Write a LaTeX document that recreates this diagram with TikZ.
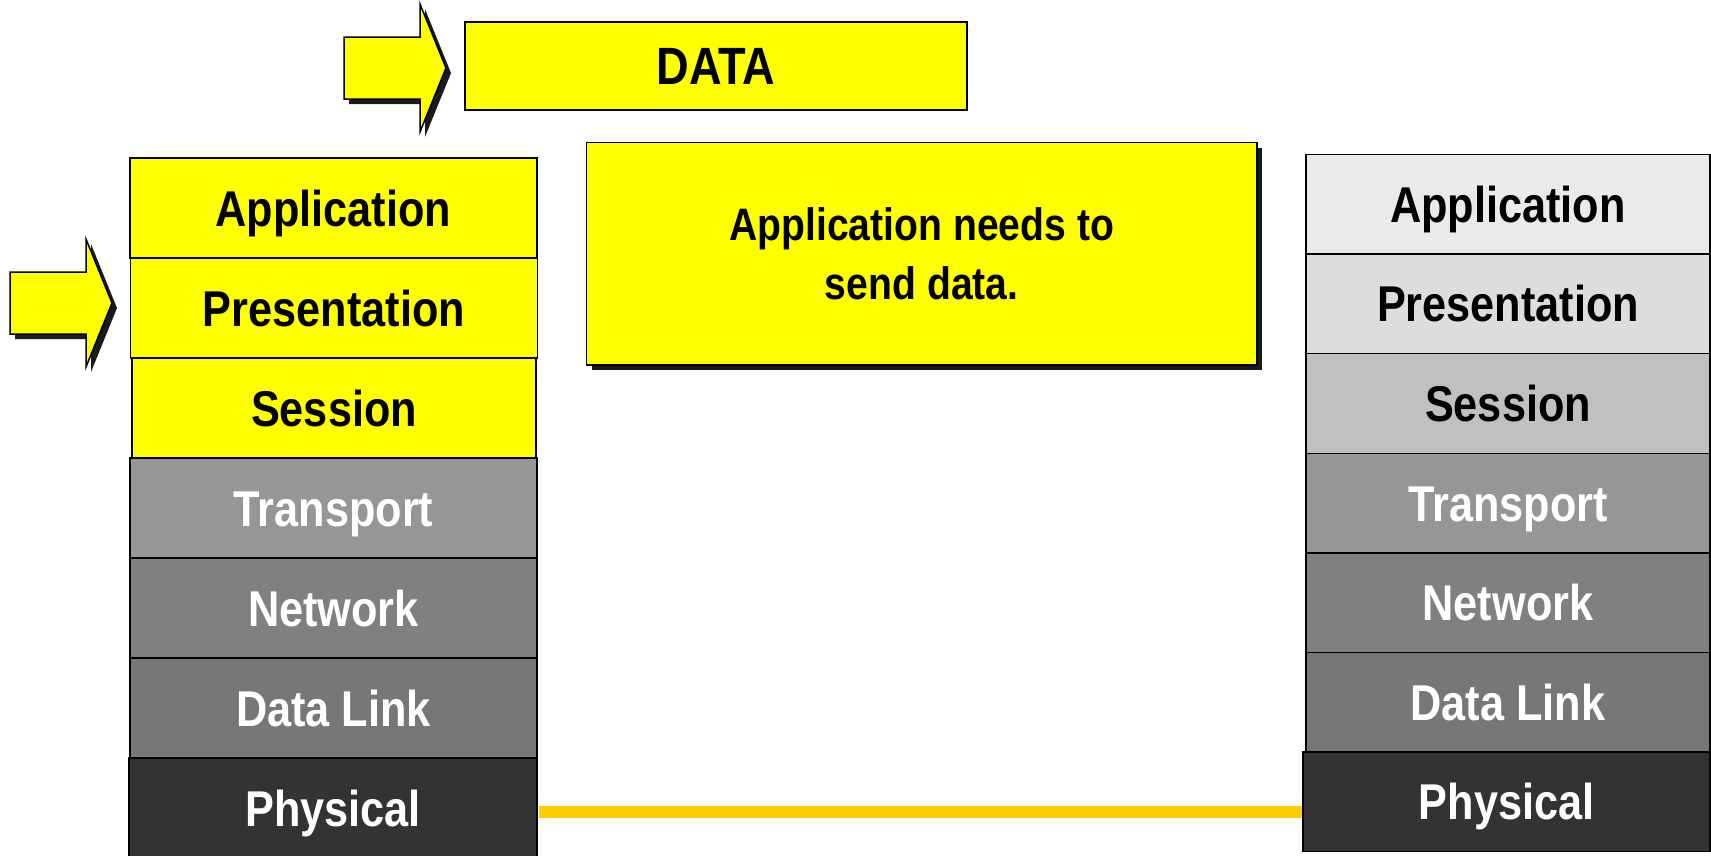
\documentclass[tikz,border=0pt]{standalone}
\usepackage{fontspec}
\usetikzlibrary{shadows}
\newfontfamily\labelfont[FakeStretch=0.86]{Liberation Sans Bold}

\definecolor{hiyellow}{HTML}{FFFF00}
\definecolor{linkgold}{HTML}{FFCC00}
\definecolor{shadowgray}{HTML}{1A1A1A}
\definecolor{gAppl}{HTML}{EAEAEA}
\definecolor{gPres}{HTML}{DDDDDD}
\definecolor{gSess}{HTML}{C0C0C0}
\definecolor{gTran}{HTML}{969696}
\definecolor{gNetw}{HTML}{808080}
\definecolor{gLink}{HTML}{777777}
\definecolor{gPhys}{HTML}{333333}

\tikzset{
  layer/.style={draw=black, line width=1.5pt, inner sep=0pt,
    minimum height=100pt, text height=36pt, text depth=0pt,
    font=\labelfont\fontsize{50.3}{60}\selectfont},
  leftlayer/.style={layer, minimum width=407pt},
  rightlayer/.style={layer, minimum width=404pt, minimum height=99.6pt},
  upper/.style={text=black},
  lower/.style={text=white},
  yellowbox/.style={draw=black, line width=1.5pt, fill=hiyellow, inner sep=0pt},
  link/.style={draw=linkgold, line width=12pt},
  pics/bigarrow/.style={code={
    \fill[shadowgray] (5,-26) -- (81,-26) -- (81,-59) -- (107,5) -- (81,69)
      -- (81,36) -- (5,36) -- cycle;
    \draw[draw=black, line width=1.5pt, fill=hiyellow, line join=miter]
      (0,-31) -- (76,-31) -- (76,-64) -- (102,0) -- (76,64) -- (76,31)
      -- (0,31) -- cycle;
  }}
}

\begin{document}
\begin{tikzpicture}[x=1pt, y=-1pt]
\useasboundingbox (0,0) rectangle (1711,855);

% sending host: seven layers
\node[leftlayer, upper, fill=hiyellow] (lapp)  at (333.5,208) {Application};
\node[leftlayer, upper, fill=hiyellow] (lpres) at (334,308)   {Presentation};
\node[leftlayer, upper, fill=hiyellow, minimum width=404pt] (lses) at (334,408) {Session};
\node[leftlayer, lower, fill=gTran] (ltran) at (333.5,508) {Transport};
\node[leftlayer, lower, fill=gNetw] (lnet)  at (333.5,608) {Network};
\node[leftlayer, lower, fill=gLink] (ldl)   at (333.5,708) {Data Link};
\node[leftlayer, lower, fill=gPhys, minimum width=408pt] (lphy) at (333,808) {Physical};

% receiving host: seven layers
\node[rightlayer, upper, fill=gAppl] (rapp)  at (1508,204.3) {Application};
\node[rightlayer, upper, fill=gPres] (rpres) at (1508,303.9) {Presentation};
\node[rightlayer, upper, fill=gSess] (rses)  at (1508,403.5) {Session};
\node[rightlayer, lower, fill=gTran] (rtran) at (1508,503.1) {Transport};
\node[rightlayer, lower, fill=gNetw] (rnet)  at (1508,602.7) {Network};
\node[rightlayer, lower, fill=gLink] (rdl)   at (1508,702.3) {Data Link};
\node[rightlayer, lower, fill=gPhys, minimum width=407pt] (rphy) at (1506.5,801.9) {Physical};

% physical medium between the hosts
\coordinate (wireY) at (0,812);
\draw[link, shorten <=0.75pt, shorten >=0.75pt]
  (lphy.east |- wireY) -- (rphy.west |- wireY);

% data unit handed to the application layer
\node[yellowbox, minimum width=502pt, minimum height=88pt,
      text height=37.5pt, text depth=0pt,
      font=\labelfont\fontsize{52.5}{60}\selectfont] (data) at (716,66) {DATA};

% explanation box
\node[yellowbox, minimum width=670.5pt, minimum height=222.3pt, align=center,
      font=\labelfont\fontsize{45.5}{58.3}\selectfont,
      drop shadow={shadow xshift=5pt, shadow yshift=-5pt, opacity=1, fill=shadowgray}]
  (msg) at (921.75,253.85) {Application needs to\\send data.};

% block arrows
\pic at (344,68) {bigarrow};
\pic at (10,303) {bigarrow};
\end{tikzpicture}
\end{document}
